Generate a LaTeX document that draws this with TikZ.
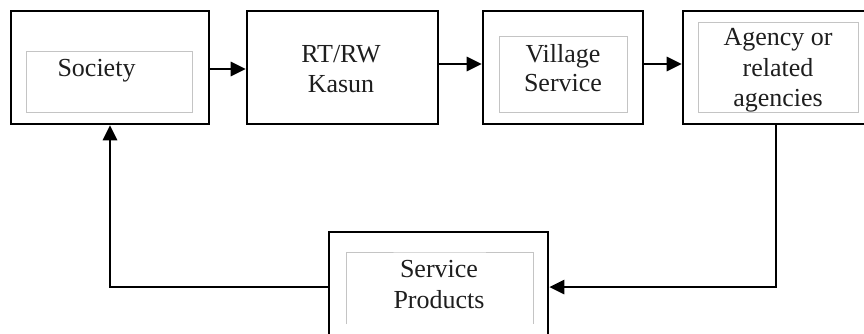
\documentclass[tikz,border=0pt]{standalone}
\usepackage{fontspec}
\setmainfont{Liberation Serif}
\usetikzlibrary{arrows.meta}
\definecolor{innergray}{HTML}{C4C4C4}
\definecolor{txt}{HTML}{1E1E1E}
\begin{document}
\begin{tikzpicture}[x=1pt,y=-1pt,
  outerbox/.style={draw=black, line width=2.6pt, inner sep=0pt},
  innerbox/.style={draw=innergray, line width=1pt, inner sep=0pt},
  lbl/.style={anchor=base, inner sep=0pt, text=txt, font=\fontsize{26}{30}\selectfont},
  arr/.style={line width=2.8pt, -{Triangle[length=15pt,width=14pt]}}]
\useasboundingbox (0,0) rectangle (864,333);
\clip (0,0) rectangle (864,333);
% outer boxes
\node[outerbox, minimum width=198pt, minimum height=113pt] (soc) at (110,67.5) {};
\node[outerbox, minimum width=191pt, minimum height=113pt] (rt) at (342.5,67.5) {};
\node[outerbox, minimum width=160pt, minimum height=113pt] (vil) at (563,67.5) {};
\node[outerbox, minimum width=186pt, minimum height=113pt] (ag) at (776,67.5) {};
\node[outerbox, minimum width=219pt, minimum height=110pt] (sp) at (438.5,287) {};
% inner boxes
\node[innerbox, minimum width=166pt, minimum height=61pt] (soci) at (109,81.5) {};
\node[innerbox, minimum width=128pt, minimum height=76pt] (vili) at (563,74) {};
\node[innerbox, minimum width=160pt, minimum height=90pt] (agi) at (778,67) {};
\coordinate (spa) at (346,324);
\coordinate (spb) at (533,324);
\draw[innergray, line width=1pt] (spa) |- (439.5,252) -| (spb);
% texts
\node[lbl] (t1) at (96.5,76) {Society};
\node[lbl] (t2a) at (341,62) {RT/RW};
\node[lbl] (t2b) at (341,92) {Kasun};
\node[lbl] (t3a) at (563,62) {Village};
\node[lbl] (t3b) at (563,91) {Service};
\node[lbl] (t4a) at (778,45) {Agency or};
\node[lbl] (t4b) at (778,76) {related};
\node[lbl] (t4c) at (778,106) {agencies};
\node[lbl] (t5a) at (439,277) {Service};
\node[lbl] (t5b) at (439,308) {Products};
% connectors
\draw[arr] ([yshift=-1.5pt]soc.east) -- ([yshift=-1.5pt]rt.west);
\draw[arr] ([yshift=3.5pt]rt.east) -- ([yshift=3.5pt]vil.west);
\draw[arr] ([yshift=3.5pt]vil.east) -- ([yshift=3.5pt]ag.west);
\draw[arr] (ag.south) |- (sp.east);
\draw[arr] (sp.west) -| (soc.south);
\end{tikzpicture}
\end{document}
